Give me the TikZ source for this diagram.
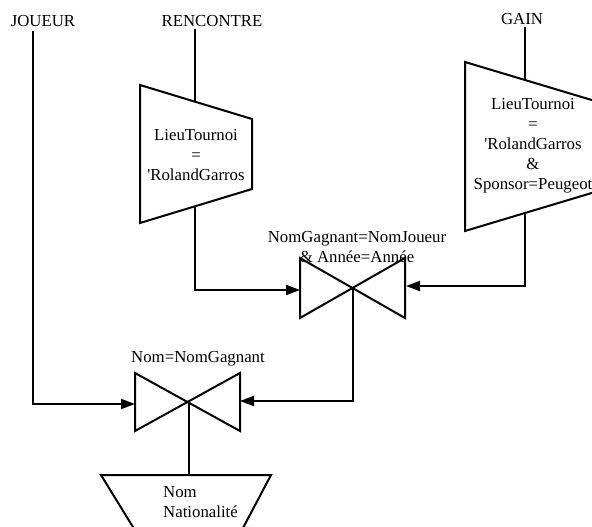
\documentclass[tikz,border=0pt]{standalone}
\usepackage{fontspec}
\setmainfont{Liberation Serif}
\usetikzlibrary{arrows.meta}
\begin{document}
\begin{tikzpicture}[x=1pt,y=-1pt,
  edge/.style={line width=2pt,line join=miter},
  flow/.style={edge,-{Triangle[length=14pt,width=10pt]}},
  lbl/.style={inner sep=0pt,font=\fontsize{16.8}{20}\selectfont},
  cond/.style={lbl,align=center}]
\useasboundingbox (0,0) rectangle (592,527);
\clip (0,0) rectangle (592,527);

% relation names
\node[lbl] (joueur) at (43,21) {JOUEUR};
\node[lbl] (rencontre) at (212,21) {RENCONTRE};
\node[lbl] (gain) at (522,19) {GAIN};
\coordinate (joueurout) at (33,31);
\coordinate (rencontreout) at (195,29);
\coordinate (gainout) at (525,27);

% selection on RENCONTRE
\draw[edge] (140,85) -- (252,119) -- (252,189) -- (140,223) -- cycle;
\coordinate (sel1in) at (195,101.7);
\coordinate (sel1out) at (195,206.3);
\node[cond] (sel1) at (196,155) {LieuTournoi\\=\\\textquotesingle RolandGarros};

% selection on GAIN
\draw[edge] (465,62) -- (601,102.8) -- (601,190.2) -- (465,231) -- cycle;
\coordinate (sel2in) at (525,80);
\coordinate (sel2out) at (525,213);
\node[cond] (sel2) at (533,146)
  {LieuTournoi\\=\\\textquotesingle RolandGarros\\\&\\Sponsor=Peugeot};

% join RENCONTRE / GAIN
\draw[edge] (300,258) -- (405,318) -- (405,258) -- (300,318) -- cycle;
\coordinate (join1c) at (352.5,288);
\coordinate (join1w) at (300,290);
\coordinate (join1e) at (406,286);
\node[cond] (join1lbl) at (357,247) {NomGagnant=NomJoueur\\\& Année=Année};

% join JOUEUR / result
\draw[edge] (135,373) -- (240,431) -- (240,373) -- (135,431) -- cycle;
\coordinate (join2c) at (188.5,402);
\coordinate (join2w) at (135,404);
\coordinate (join2e) at (240,401);
\node[lbl] (join2lbl) at (198,359) {Nom=NomGagnant};

% projection
\draw[edge] (101,475) -- (271,475) -- (234,545) -- (144,545) -- cycle;
\coordinate (projin) at (188.5,475);
\node[lbl,align=left,anchor=west] (proj) at (163,502) {Nom\\Nationalité};

% connectors
\draw[edge] (rencontreout) -- (sel1in);
\draw[edge] (gainout) -- (sel2in);
\draw[flow] (sel1out) |- (join1w);
\draw[flow] (sel2out) |- (join1e);
\draw[flow] (joueurout) |- (join2w);
\draw[flow] (join1c) |- (join2e);
\draw[edge] (join2c) -- (projin);
\end{tikzpicture}
\end{document}
